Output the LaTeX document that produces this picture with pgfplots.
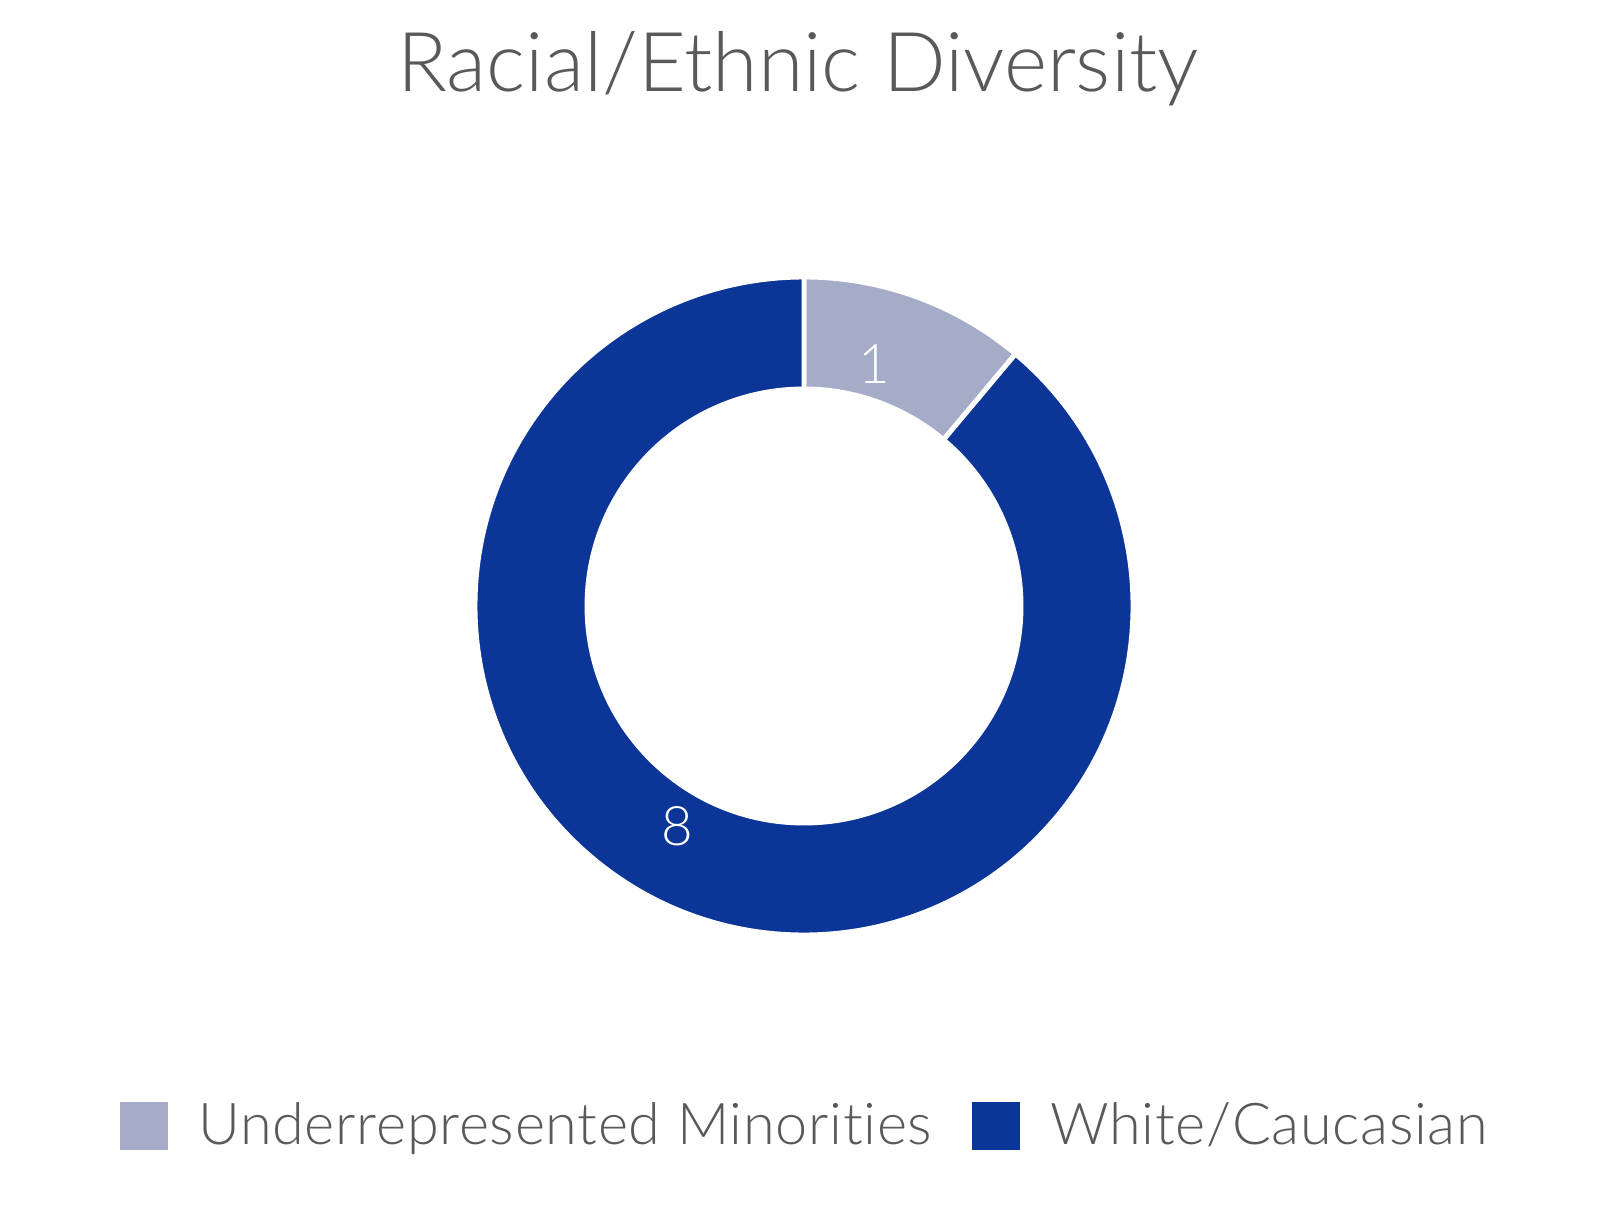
\documentclass[border=0pt]{standalone}
\usepackage{pgfplots}
\pgfplotsset{compat=1.18}
\usepackage{pgfplotstable}
\usepackage{fontspec}
\setmainfont{Lato Light}[Ligatures={NoCommon}]
\definecolor{urm}{HTML}{A5ACC8}
\definecolor{wht}{HTML}{0B3597}
\definecolor{txt}{HTML}{595959}
\pgfplotstableread{
value
1
8
}\racedata
\begin{document}
\begin{tikzpicture}
\pgfplotstablegetelem{0}{value}\of\racedata \edef\va{\pgfplotsretval}
\pgfplotstablegetelem{1}{value}\of\racedata \edef\vb{\pgfplotsretval}
\pgfmathsetmacro{\tot}{\va+\vb}
\pgfmathsetmacro{\aA}{90}
\pgfmathsetmacro{\aB}{90-360*\va/\tot}
\pgfmathsetmacro{\aC}{\aB-360*\vb/\tot}
\begin{axis}[
  scale only axis, width=16.08cm, height=12.06cm,
  xmin=0, xmax=1608, ymin=0, ymax=1206,
  hide axis, clip=false,
  legend style={at={(axis cs:819,80)}, anchor=center, draw=none, fill=none,
    font=\fontsize{16.4}{18}\selectfont\addfontfeatures{LetterSpace=1.2}, text=txt,
    legend columns=2,
    /tikz/every even column/.append style={column sep=0.10cm},
    nodes={inner xsep=0.30cm, inner ysep=2pt}},
  legend image code/.code={\fill[#1] (0cm,-0.235cm) rectangle (0.47cm,0.235cm);},
]
\path (axis cs:0,0) rectangle (axis cs:1608,1206);
\addlegendimage{urm, fill=urm}
\addlegendentry{Underrepresented Minorities}
\addlegendimage{wht, fill=wht}
\addlegendentry{White/Caucasian}
\begin{scope}[shift={(axis cs:804,600)}]
\fill[urm, draw=white, line width=1.4pt] (\aA:3.29cm) arc[start angle=\aA, end angle=\aB, radius=3.29cm] -- (\aB:2.17cm) arc[start angle=\aB, end angle=\aA, radius=2.17cm] -- cycle;
\fill[wht, draw=white, line width=1.4pt] (\aB:3.29cm) arc[start angle=\aB, end angle=\aC, radius=3.29cm] -- (\aC:2.17cm) arc[start angle=\aC, end angle=\aB, radius=2.17cm] -- cycle;
\end{scope}
\node[text=white, font=\fontsize{15.5}{17}\selectfont] at (axis cs:874,842) {\va};
\node[text=white, font=\fontsize{15.5}{17}\selectfont] at (axis cs:677,380) {\vb};
\node[anchor=base, text=txt, font=\fontsize{23.5}{27}\selectfont] at (axis cs:798,1114) {Racial/Ethnic Diversity};
\end{axis}
\end{tikzpicture}
\end{document}
